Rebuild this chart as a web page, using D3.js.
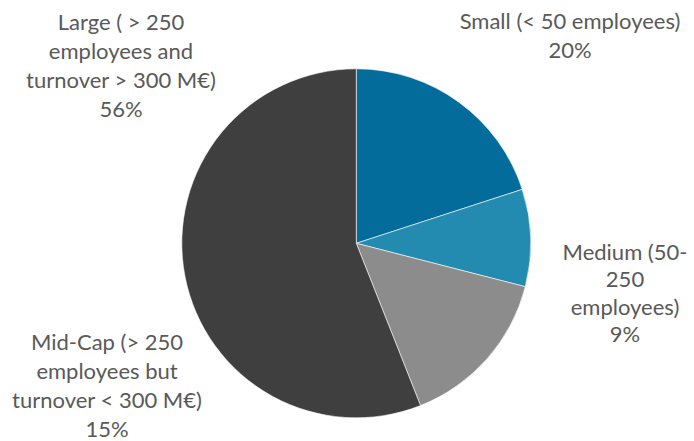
<!DOCTYPE html>
<html>
<head>
<meta charset="utf-8">
<script src="https://cdn.jsdelivr.net/npm/d3@7"></script>
<style>
  html, body { margin: 0; padding: 0; background: #fff; }
  svg { display: block; }
  text { font-family: Lato, "Open Sans", sans-serif; fill: #595959; }
</style>
</head>
<body>
<svg id="chart" width="694" height="441"></svg>
<script>
// Company size distribution
const categories = [
  "Small (< 50 employees)",
  "Medium (50-250 employees)",
  "Mid-Cap (> 250 employees but turnover < 300 M€)",
  "Large ( > 250 employees and turnover > 300 M€)"
];
const shares = [20, 9, 15, 56];
const colors = ["#036c9b", "#238bb0", "#8c8c8c", "#3f3f3f"];
// Label lines as wrapped on the chart
const labelLines = [
  ["Small (< 50 employees)", "20%"],
  ["Medium (50-", "250", "employees)", "9%"],
  ["Mid-Cap (> 250", "employees but", "turnover < 300 M€)", "15%"],
  ["Large ( > 250", "employees and", "turnover > 300 M€)", "56%"]
];
// Label anchor (centre x, first line centre y)
const labelPos = [[570, 21], [625, 252], [107, 342], [121, 22]];
const lineGap = [29, 27.5, 29, 29];

const svg = d3.select("#chart");
const cx = 356.3, cy = 243.3, r = 174.5;

const pie = d3.pie().sort(null).value(d => d.value);
const arcs = pie(shares.map((v, i) => ({ value: v, name: categories[i], i })));
const arc = d3.arc().innerRadius(0).outerRadius(r);

const g = svg.append("g").attr("transform", `translate(${cx},${cy})`);
g.selectAll("path")
  .data(arcs)
  .join("path")
  .attr("d", arc)
  .attr("fill", d => colors[d.data.i])
  .attr("stroke", "#ffffff")
  .attr("stroke-width", 0.6);

const labels = svg.selectAll("text.lbl")
  .data(arcs)
  .join("text")
  .attr("class", "lbl")
  .attr("text-anchor", "middle")
  .attr("font-size", 22);

labels.each(function(d) {
  const i = d.data.i;
  const t = d3.select(this);
  const lines = labelLines[i];
  lines.forEach((ln, k) => {
    t.append("tspan")
      .attr("x", labelPos[i][0])
      .attr("y", labelPos[i][1] + k * lineGap[i])
      .attr("dy", "0.35em")
      .text(k === lines.length - 1 ? Math.round(d.data.value) + "%" : ln);
  });
});
</script>
</body>
</html>
